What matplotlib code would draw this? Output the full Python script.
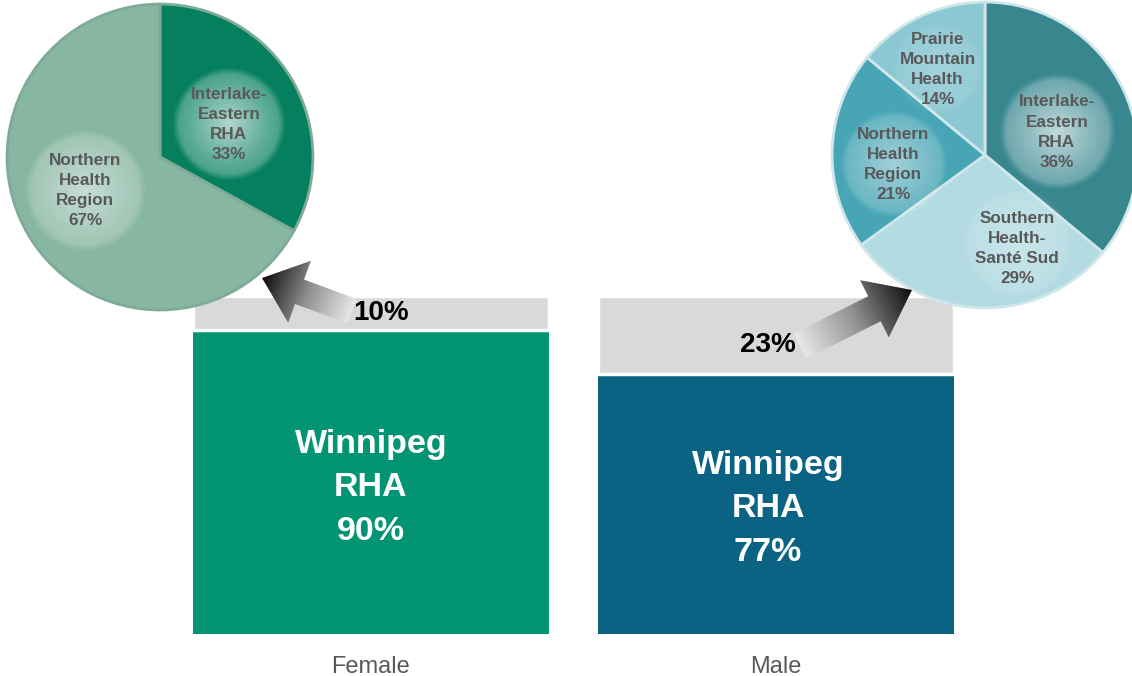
import numpy as np
import matplotlib.pyplot as plt
from matplotlib.patches import Polygon
from matplotlib.colors import LinearSegmentedColormap

plt.rcParams['font.family'] = ['Liberation Sans', 'DejaVu Sans']

# bar data (share of cases, %)
sexes = ["Female", "Male"]
winnipeg = [90, 77]
outside = [10, 23]

# where the non-Winnipeg share goes
female_regions = ["Interlake-\nEastern\nRHA", "Northern\nHealth\nRegion"]
female_shares = [33, 67]
male_regions = ["Interlake-\nEastern\nRHA", "Southern\nHealth-\nSanté Sud", "Northern\nHealth\nRegion",
                "Prairie\nMountain\nHealth"]
male_shares = [36, 29, 21, 14]

W, H = 1132, 676
fig = plt.figure(figsize=(W / 100, H / 100), dpi=100)


def px_box(x0, y0, x1, y1):
    """pixel box (top-left origin) -> figure fraction rect"""
    return [x0 / W, 1 - y1 / H, (x1 - x0) / W, (y1 - y0) / H]


# ---- bars
bw = 355 / 404.5
ax = fig.add_axes(px_box(193, 296, 954, 634))
xs = np.arange(len(sexes))
ax.bar(xs, winnipeg, width=bw, color=["#029473", "#0b6384"], linewidth=0)
ax.bar(xs, outside, bottom=winnipeg, width=bw, color="#d9d9d9", edgecolor="white", linewidth=2.5)
ax.set_xlim(-bw / 2, 1 + bw / 2)
ax.set_ylim(0, 100)
ax.set_xticks(xs)
ax.set_xticklabels(sexes, fontsize=17, color="#595959")
ax.tick_params(length=0, pad=16)
ax.set_yticks([])
for s in ax.spines.values():
    s.set_visible(False)

txt_off = [0.0, -0.02]
txt_y = [43.3, 37.0]
for i in range(len(sexes)):
    ax.text(xs[i] + txt_off[i], txt_y[i], "Winnipeg\nRHA\n%d%%" % winnipeg[i], ha="center", va="center",
            color="white", fontsize=24.5, fontweight="bold", linespacing=1.52)


# ---- pies
def glow(a, cx, cy, r, strength):
    n = 200
    g = np.linspace(-1, 1, n)
    X, Y = np.meshgrid(g, g)
    d = np.sqrt(X ** 2 + Y ** 2)
    alpha = (0.35 + 0.65 * np.clip(1 - d, 0, 1) ** 1.2) * strength
    alpha *= np.clip((1 - d) / 0.12, 0, 1)
    img = np.ones((n, n, 4))
    img[..., 3] = alpha
    a.imshow(img, extent=(cx - r, cx + r, cy - r, cy + r), zorder=3, interpolation="bilinear")


def make_pie(box, shares, labels, colors, edge, lpos, glows):
    a = fig.add_axes(px_box(*box))
    a.pie(shares, colors=colors, startangle=90, counterclock=False, radius=1,
          wedgeprops=dict(edgecolor=edge, linewidth=2))
    for (cx, cy, r, s) in glows:
        glow(a, cx, cy, r, s)
    for lab, v, (lx, ly) in zip(labels, shares, lpos):
        a.text(lx, ly, "%s\n%d%%" % (lab, v), ha="center", va="center", fontsize=12.3, fontweight="bold",
               color="#595959", linespacing=1.42, zorder=5)
    a.set_xlim(-1.02, 1.02)
    a.set_ylim(-1.02, 1.02)
    a.set_aspect("equal")
    a.axis("off")
    return a


make_pie((4, 1, 316, 313), female_shares, female_regions, ["#067f5f", "#87b6a2"], "#7eab97",
         [(0.45, 0.21), (-0.49, -0.22)],
         [(0.45, 0.21, 0.37, 0.7), (-0.49, -0.22, 0.40, 0.55)])

make_pie((829, -1, 1141, 311), male_shares, male_regions,
         ["#38878f", "#b3dbe2", "#47a5b5", "#8cc8d3"], "#cfe6ea",
         [(0.47, 0.15), (0.21, -0.61), (-0.60, -0.06), (-0.31, 0.56)],
         [(0.47, 0.15, 0.38, 0.7), (0.21, -0.58, 0.36, 0.3), (-0.60, -0.06, 0.35, 0.5),
          (-0.31, 0.56, 0.3, 0.2)])

# ---- overlay with gradient arrows
ov = fig.add_axes([0, 0, 1, 1], zorder=10)
ov.set_xlim(0, W)
ov.set_ylim(H, 0)
ov.axis("off")
ov.patch.set_alpha(0)

cmap = LinearSegmentedColormap.from_list("arr", ["#e8e8e8", "#8f8f8f", "#0a0a0a"])


def grad_arrow(tail, tip, shaft_w, head_w, head_l):
    tail = np.array(tail, float)
    tip = np.array(tip, float)
    d = tip - tail
    L = np.hypot(*d)
    u = d / L
    n = np.array([-u[1], u[0]])
    base = tip - u * head_l
    pts = [tail + n * shaft_w / 2, base + n * shaft_w / 2, base + n * head_w / 2, tip,
           base - n * head_w / 2, base - n * shaft_w / 2, tail - n * shaft_w / 2]
    poly = Polygon(pts, closed=True, facecolor="none", edgecolor="none")
    ov.add_patch(poly)
    xs_ = [p[0] for p in pts]
    ys_ = [p[1] for p in pts]
    x0, x1, y0, y1 = min(xs_), max(xs_), min(ys_), max(ys_)
    gx, gy = np.meshgrid(np.linspace(x0, x1, 200), np.linspace(y0, y1, 200))
    t = ((gx - tail[0]) * u[0] + (gy - tail[1]) * u[1]) / L
    im = ov.imshow(np.clip(t, 0, 1), extent=(x0, x1, y1, y0), cmap=cmap, vmin=0, vmax=1,
                   interpolation="bilinear", zorder=2)
    im.set_clip_path(poly)


grad_arrow((352, 311), (262, 278), 26, 66, 40)
grad_arrow((800, 346), (912, 290), 28, 64, 42)

ov.set_xlim(0, W)
ov.set_ylim(H, 0)

ov.text(0 + 0.026, 95, "10%", transform=ax.transData, ha="center", va="center", fontsize=20,
        fontweight="bold", color="black", zorder=5)
ov.text(1 - 0.02, 85.5, "23%", transform=ax.transData, ha="center", va="center", fontsize=20,
        fontweight="bold", color="black", zorder=5)

fig.savefig("out.png", dpi=100, facecolor="white")
